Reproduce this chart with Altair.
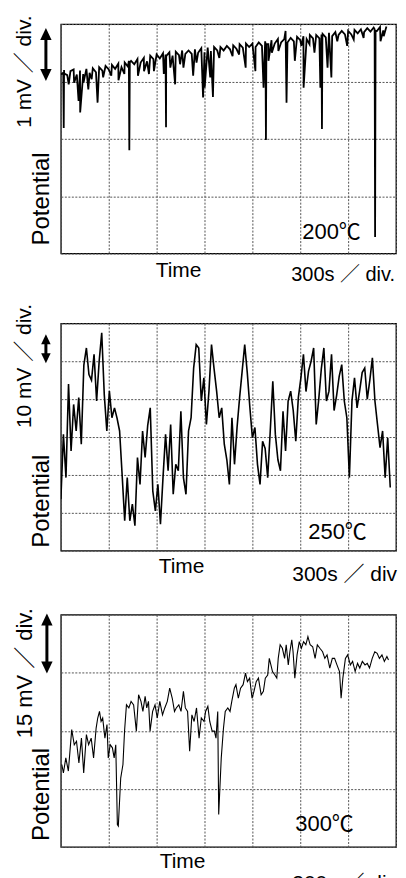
import altair as alt
import pandas as pd

FONT = "Liberation Sans, Noto Sans CJK JP, sans-serif"

# time axis: 300 s per division, 7 divisions
X_DIV = 300
X_TICKS = [0, 300, 600, 900, 1200, 1500, 1800, 2100]

# ---------------- Panel 1 : 200 C (mV) ----------------
P1_DT = 20  # sampling interval of the baseline trace (s)
P1_BASE = [
    3.12, 3.20, 3.11, 3.18, 3.21, 3.12, 3.19, 3.13, 3.22, 3.15,
    3.23, 3.16, 3.25, 3.19, 3.27, 3.21, 3.29, 3.22, 3.31, 3.25,
    3.33, 3.26, 3.36, 3.30, 3.39, 3.33, 3.41, 3.35, 3.45, 3.39,
    3.47, 3.40, 3.49, 3.43, 3.51, 3.45, 3.52, 3.46, 3.54, 3.48,
    3.54, 3.48, 3.56, 3.50, 3.58, 3.51, 3.59, 3.53, 3.60, 3.54,
    3.60, 3.54, 3.62, 3.56, 3.63, 3.57, 3.65, 3.59, 3.66, 3.60,
    3.66, 3.60, 3.68, 3.62, 3.70, 3.65, 3.72, 3.66, 3.74, 3.68,
    3.74, 3.68, 3.76, 3.70, 3.78, 3.72, 3.79, 3.74, 3.81, 3.75,
    3.81, 3.75, 3.83, 3.77, 3.85, 3.79, 3.86, 3.81, 3.88, 3.82,
    3.88, 3.82, 3.90, 3.84, 3.91, 3.86, 3.93, 3.87, 3.94, 3.88,
    3.95, 3.89, 3.96,
]
# deep downward spikes
P1_SPIKE_T = [15, 18, 21, 111, 121, 172, 230, 361, 426, 429, 432, 483, 552, 645,
              656, 659, 662, 716, 768, 829, 891, 901, 936, 953, 1158, 1219,
              1270, 1282, 1285, 1288, 1301, 1408, 1414, 1466, 1521, 1589,
              1626, 1633, 1636, 1639, 1671, 1695, 1794,
              1966, 1969, 1972, 2003]
P1_SPIKE_V = [3.15, 2.19, 3.14, 2.66, 2.46, 2.86, 2.63, 3.02, 3.36, 1.80, 3.33, 3.10, 3.13, 3.13,
              3.47, 2.20, 3.45, 2.95, 3.24, 3.10, 2.72, 2.89, 3.07, 2.73, 3.24, 3.18,
              2.89, 3.67, 1.98, 3.65, 3.36, 3.88, 2.63, 3.36, 2.89, 3.50,
              2.89, 3.82, 2.17, 3.79, 3.24, 3.07, 3.62,
              3.91, 0.29, 3.88, 3.70]
# small dips inside the noise band
P1_DIP_T = [49, 83, 142, 193, 265, 316, 398, 521, 583, 686, 747, 850, 993,
            1076, 1117, 1322, 1363, 1507, 1558, 1732, 1835, 1897, 2023]
P1_DIP_V = [2.95, 2.98, 2.98, 3.04, 3.07, 3.10, 3.13, 3.18, 3.18, 3.24, 3.30, 3.33, 3.41,
            3.44, 3.47, 3.50, 3.53, 3.62, 3.65, 3.70, 3.73, 3.76, 3.79]

# ---------------- Panel 2 : 250 C (mV) ----------------
P2_DT = 16
P2_V = [
    13.6, 30.7, 19.3, 44.0, 26.3, 38.6, 31.6, 40.4, 28.1, 49.0,
    53.5, 46.5, 45.0, 51.8, 39.5, 50.0, 57.5, 41.2, 31.6, 42.1,
    35.1, 37.7, 35.0, 31.6, 20.0, 7.9, 19.3, 7.9, 12.3, 6.6,
    24.6, 17.5, 31.6, 24.6, 33.0, 37.7, 15.8, 10.5, 17.5, 7.0,
    19.3, 30.7, 21.1, 33.3, 14.9, 22.8, 21.1, 36.8, 19.3, 14.9,
    31.6, 35.1, 48.2, 54.4, 53.5, 39.5, 45.6, 33.3, 42.1, 54.4,
    48.0, 42.1, 35.1, 37.7, 28.1, 24.0, 17.5, 35.1, 22.8, 32.5,
    40.4, 47.4, 54.4, 47.0, 38.0, 29.8, 32.5, 22.8, 17.5, 28.9,
    27.0, 19.3, 31.6, 44.7, 30.7, 24.0, 21.1, 36.8, 26.3, 39.5,
    42.1, 37.0, 28.9, 40.4, 45.6, 51.8, 42.0, 47.4, 50.0, 53.5,
    33.3, 40.0, 48.0, 53.5, 39.5, 42.1, 51.8, 37.0, 41.0, 46.0,
    49.1, 39.5, 35.1, 19.3, 39.5, 45.6, 37.7, 42.1, 47.0, 48.2,
    40.0, 45.0, 50.9, 39.5, 33.3, 27.2, 31.6, 19.3, 29.8, 16.7,
]

# ---------------- Panel 3 : 300 C (mV) ----------------
P3_T = [
    6, 16, 31, 47, 68, 84, 98, 113, 129, 143,
    160, 174, 190, 205, 221, 231, 242, 252, 262, 276,
    289, 297, 309, 323, 334, 344, 354, 360, 375, 389,
    399, 411, 426, 440, 456, 473, 487, 502, 514, 528,
    538, 549, 559, 575, 590, 604, 620, 637, 651, 667,
    682, 698, 712, 723, 739, 753, 768, 780, 794, 807,
    821, 835, 850, 866, 880, 897, 907, 921, 933, 948,
    962, 972, 983, 989, 1005, 1019, 1030, 1046, 1060, 1071,
    1087, 1097, 1112, 1126, 1142, 1157, 1169, 1183, 1198, 1210,
    1224, 1238, 1255, 1269, 1281, 1296, 1306, 1316, 1326, 1341,
    1353, 1362, 1374, 1388, 1402, 1412, 1425, 1435, 1447, 1455,
    1466, 1480, 1494, 1507, 1521, 1535, 1548, 1562, 1578, 1593,
    1607, 1623, 1640, 1654, 1668, 1685, 1701, 1715, 1730, 1746,
    1756, 1767, 1783, 1797, 1814, 1828, 1844, 1859, 1873, 1889,
    1906, 1920, 1934, 1951, 1967, 1982, 1996, 2012, 2027, 2043,
    2053,
]
P3_V = [
    21.3, 19.1, 23.0, 19.6, 30.3, 26.4, 27.3, 21.7, 28.1, 19.1,
    29.0, 26.4, 28.1, 23.0, 30.7, 33.3, 35.0, 32.4, 33.3, 28.1,
    31.6, 23.0, 26.4, 25.6, 23.0, 26.4, 5.8, 5.4, 17.8, 21.3,
    29.9, 36.7, 35.9, 37.6, 36.7, 29.9, 39.3, 37.6, 35.0, 38.9,
    35.9, 37.6, 29.9, 35.0, 36.7, 33.3, 37.6, 34.1, 35.9, 37.6,
    41.0, 38.4, 35.0, 35.9, 36.7, 35.0, 40.2, 35.9, 35.0, 24.7,
    34.1, 32.4, 35.9, 28.1, 33.3, 32.4, 35.0, 36.3, 32.4, 29.9,
    29.9, 28.1, 35.0, 8.4, 23.0, 30.7, 35.0, 35.9, 35.0, 37.6,
    41.0, 41.9, 38.4, 41.0, 41.9, 44.9, 42.7, 43.6, 38.4, 40.2,
    42.7, 43.6, 39.3, 40.2, 43.6, 44.4, 48.7, 47.0, 45.3, 44.4,
    43.6, 48.7, 52.2, 51.3, 48.7, 52.2, 47.0, 50.4, 53.5, 50.4,
    43.6, 49.6, 53.0, 51.3, 53.0, 52.2, 54.3, 52.2, 51.7, 48.7,
    52.2, 51.3, 50.4, 48.7, 49.6, 46.2, 48.7, 48.7, 47.0, 45.3,
    38.4, 43.6, 48.7, 49.6, 47.0, 47.9, 45.3, 47.4, 46.2, 47.9,
    47.0, 47.4, 46.2, 48.7, 50.4, 50.0, 48.7, 49.6, 47.9, 49.2,
    48.3,
]

PANELS = [
    dict(div_label="1 mV \uff0f div.", mv_div=1, ndiv=4, temp="200\u2103", xlab="300s \uff0f div."),
    dict(div_label="10 mV \uff0f div.", mv_div=10, ndiv=6, temp="250\u2103", xlab="300s \uff0f div"),
    dict(div_label="15 mV \uff0f div.", mv_div=15, ndiv=4, temp="300\u2103", xlab="300s \uff0f div"),
]

# ---------------- build data frames ----------------
df1 = pd.DataFrame({
    "t": [i * P1_DT for i in range(len(P1_BASE))] + P1_SPIKE_T + P1_DIP_T,
    "v": P1_BASE + P1_SPIKE_V + P1_DIP_V,
}).sort_values("t")
df2 = pd.DataFrame({"t": [i * P2_DT for i in range(len(P2_V))], "v": P2_V})
df3 = pd.DataFrame({"t": P3_T, "v": P3_V})

W = 336
ONE = pd.DataFrame({"d": [0]})
UP = "M-0.95,0L0.95,0L0,-2Z"
DOWN = "M-0.95,0L0.95,0L0,2Z"


def txt(s, x, y, size=21, angle=0, align="left"):
    return alt.Chart(ONE).mark_text(
        text=s, fontSize=size, font=FONT, angle=angle, align=align,
        baseline="alphabetic", color="black"
    ).encode(x=alt.value(x), y=alt.value(y))


def arrow(x, tip_top, tip_bot, head):
    s = head / 2.0
    size = (2 * s) ** 2
    shaft = alt.Chart(ONE).mark_rule(color="black", strokeWidth=3).encode(
        x=alt.value(x), y=alt.value(tip_top + head - 1), y2=alt.value(tip_bot - head + 1))
    hu = alt.Chart(ONE).mark_point(shape=UP, filled=True, color="black", opacity=1,
                                   size=size, strokeWidth=0).encode(
        x=alt.value(x), y=alt.value(tip_top + head))
    hd = alt.Chart(ONE).mark_point(shape=DOWN, filled=True, color="black", opacity=1,
                                   size=size, strokeWidth=0).encode(
        x=alt.value(x), y=alt.value(tip_bot - head))
    return [shaft, hu, hd]


def panel(df, p, h, lw, layout):
    ymax = p["mv_div"] * p["ndiv"]
    yvals = [p["mv_div"] * i for i in range(p["ndiv"] + 1)]
    grid = dict(grid=True, gridDash=[2, 1.5], gridColor="#555", gridWidth=1,
                labels=False, ticks=False, domain=False, title=None)
    line = alt.Chart(df).mark_line(color="black", strokeWidth=lw, clip=True).encode(
        x=alt.X("t:Q", scale=alt.Scale(domain=[0, 7 * X_DIV], nice=False, zero=False),
                axis=alt.Axis(values=X_TICKS, **grid)),
        y=alt.Y("v:Q", scale=alt.Scale(domain=[0, ymax], nice=False, zero=False),
                axis=alt.Axis(values=yvals, **grid)),
    )
    L = layout
    layers = [line,
              txt(p["div_label"], L["lab_x"], L["lab_y"], size=L["lab_size"], angle=270),
              txt("Potential", -12, L["pot_y"], size=24, angle=270),
              txt("Time", L["time_x"], L["time_y"], align="center"),
              txt(p["xlab"], L["xl_x"], L["xl_y"], size=L["xl_size"]),
              txt(p["temp"], L["temp_x"], L["temp_y"], size=22)]
    layers += arrow(L["arr_x"], L["arr_top"], L["arr_bot"], L["head"])
    return alt.layer(*layers).properties(width=W, height=h)


c1 = panel(df1, PANELS[0], 230, 1.8, dict(
    lab_x=-30, lab_y=104, lab_size=21, pot_y=222, time_x=118, time_y=254,
    xl_x=231, xl_y=258, xl_size=20, temp_x=242, temp_y=215,
    arr_x=-15, arr_top=4, arr_bot=57, head=12))
c2 = panel(df2, PANELS[1], 228, 1.6, dict(
    lab_x=-30, lab_y=105, lab_size=21, pot_y=225, time_x=121, time_y=250,
    xl_x=232, xl_y=258, xl_size=21, temp_x=248, temp_y=216,
    arr_x=-15, arr_top=11, arr_bot=40, head=10))
c3 = panel(df3, PANELS[2], 233, 1.1, dict(
    lab_x=-29, lab_y=124, lab_size=22, pot_y=227, time_x=122, time_y=254,
    xl_x=232, xl_y=276, xl_size=21, temp_x=235, temp_y=217,
    arr_x=-14, arr_top=-1, arr_bot=59, head=12))

top_two = alt.concat(c1, c2, columns=1, spacing=16, align="none")
chart = alt.concat(top_two, c3, columns=1, spacing=21, align="none").properties(
    padding={"left": 5, "top": 5, "right": 0, "bottom": 0},
    background="white",
).configure_view(stroke="black", strokeWidth=1.3)

chart.save("out.html", embed_options={"renderer": "svg", "actions": False})
